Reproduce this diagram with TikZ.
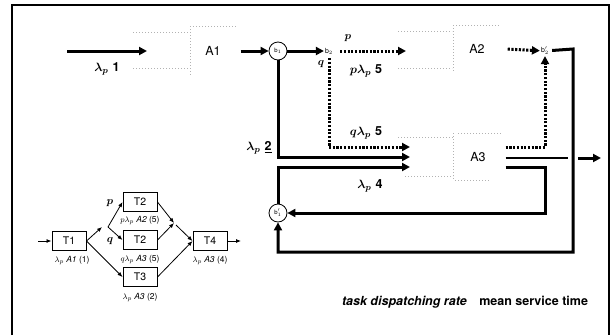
\documentclass[tikz,border=0pt]{standalone}
\usepackage{fontspec}
\setsansfont{TeX Gyre Heros}
\usepackage{bm}
\usetikzlibrary{arrows.meta}
\begin{document}
\begin{tikzpicture}[x=1pt,y=-1pt,
  thk/.style={line width=3pt,-{Triangle[length=8pt,width=8pt]}},
  thkline/.style={line width=2.6pt},
  dotarr/.style={line width=3pt,dash pattern=on 2.2pt off 1.5pt,-{Triangle[length=8pt,width=8pt]}},
  faint/.style={gray!60,line width=0.7pt,dash pattern=on 1pt off 2pt},
  srv/.style={minimum width=47pt,minimum height=46pt,inner sep=0pt,font=\sffamily\fontsize{12.5}{12.5}\selectfont},
  circ/.style={circle,draw,line width=0.8pt,minimum size=18pt,inner sep=0pt,font=\sffamily\fontsize{6}{6}\selectfont},
  bnode/.style={inner sep=1pt,font=\sffamily\fontsize{7}{7}\selectfont},
  lab/.style={inner sep=0pt,font=\fontsize{12.5}{12.5}\selectfont},
  tbox/.style={draw,line width=1pt,minimum width=34pt,minimum height=19pt,inner sep=0pt,font=\sffamily\fontsize{10.5}{10.5}\selectfont},
  sarr/.style={line width=0.8pt,-{Latex[length=5pt,width=4pt]}},
  slab/.style={inner sep=0pt,font=\sffamily\itshape\fontsize{8.5}{9}\selectfont},
  pq/.style={inner sep=0pt,font=\fontsize{11}{11}\selectfont}]
\useasboundingbox (0,0) rectangle (616,335);
% frame
\draw[line width=1.3pt] (12,335) -- (12,5) -- (609,5) -- (609,335);

% main nodes
\node[srv] (A1) at (213,51) {A1};
\node[circ] (b1) at (278,51) {b$_1$};
\node[bnode] (b2) at (329,51) {b$_2$};
\node[srv] (A2) at (477,49) {A2};
\node[bnode] (b2p) at (545,51) {b$_2'$};
\node[srv] (A3) at (478,157) {A3};
\node[circ] (b1p) at (278,213) {b$_1'$};

% coordinates
\coordinate (in1) at (67,51);
\coordinate (q1) at (147,51);
\coordinate (q2) at (406,51);
\coordinate (q3a) at (410,147);
\coordinate (q3b) at (410,157);
\coordinate (q3c) at (410,167);
\coordinate (o1) at (545,147);
\coordinate (o3) at (545,167);
\coordinate (hop1) at (568,158);
\coordinate (hop2) at (578,158);
\coordinate (out) at (601,158);
\coordinate (c1) at (573,49);
\coordinate (c2) at (573,252);

% faint queue/server outlines
\draw[faint] (133,32) -- (190,32) (133,68) -- (190,68) (190,26) -- (190,75) (190,26) -- (236,26);
\draw[faint] (398,31) -- (452,31) (398,68) -- (452,68) (453,25) -- (453,72) (453,25) -- (500,25);
\draw[faint] (398,137) -- (453,137) (405,176) -- (453,176) (453,133) -- (453,180) (458,133) -- (502,133) (455,180) -- (490,180);

% main connectors
\draw[thk] (in1) -- (q1);
\draw[thk] ([xshift=4pt]A1.east) -- (b1);
\draw[thk] (b1) -- (b2);
\draw[dotarr,shorten <=6pt] (b2) -- (q2);
\draw[dotarr,shorten <=2pt] ([xshift=5pt]A2.east) -- (b2p);
\draw[dotarr,shorten <=3pt] (b2) |- (q3a);
\draw[thk] (b1) |- (q3b);
\draw[thk] (b1p) |- (q3c);
\draw[dotarr] ([xshift=4pt]A3.east |- o1) -- (o1) -- (b2p);
\draw[thkline] ([xshift=4pt]A3.east |- hop1) -- (hop1);
\draw[thk] (hop2) -- (out);
\draw[thk] ([xshift=4pt]A3.east |- o3) -- (o3) |- (b1p);
\draw[thk,shorten <=2pt] (b2p) -- (c1) -- (c2) -| (b1p);

% labels
\node[lab] (l1) at (107,69) {$\bm{\lambda_p}$ \textbf{\sffamily 1}};
\node[lab] (l2) at (259,148) {$\bm{\lambda_p}$ \underline{\textbf{\sffamily 2}}};
\node[lab] (l5a) at (366,71) {$\bm{p\lambda_p}$ \textbf{\sffamily 5}};
\node[lab] (l5b) at (366,133) {$\bm{q\lambda_p}$ \textbf{\sffamily 5}};
\node[lab] (l4) at (370,186) {$\bm{\lambda_p}$ \textbf{\sffamily 4}};
\node[pq] (lp) at (348,38) {$\bm{p}$};
\node[pq] (lq) at (321,64) {$\bm{q}$};

% inset
\node[tbox] (T1) at (69,241) {T1};
\node[tbox] (T2a) at (140,202) {T2};
\node[tbox] (T2b) at (140,240) {T2};
\node[tbox] (T3) at (140,277) {T3};
\node[tbox] (T4) at (210,241) {T4};
\coordinate (sin) at (38,241);
\coordinate (sout) at (241,241);
\coordinate (br1) at (102,227);
\coordinate (br2) at (108,227);
\coordinate (mg1) at (174,223);
\coordinate (mg2) at (176,225);
\draw[sarr] (sin) -- (T1);
\draw[sarr] (T1.east) -- (br1);
\draw[sarr] (br2) -- (T2a.west);
\draw[sarr] (br2) -- (T2b.west);
\draw[sarr] (T1.east) -- (T3.west);
\draw[sarr] (T2a.east) -- (mg1);
\draw[sarr] (T2b.east) -- (mg1);
\draw[sarr] (mg2) -- (T4.west);
\draw[sarr] (T3.east) -- (T4.west);
\draw[sarr] (T4) -- (sout);
\node[pq] (ip) at (110,203) {$\bm{p}$};
\node[pq] (iq) at (110,241) {$\bm{q}$};
\node[slab] (s1) at (72,260) {$\lambda_p$ A1 \upshape(1)};
\node[slab] (s2a) at (140,220) {$p\lambda_p$ A2 \upshape(5)};
\node[slab] (s2b) at (140,259) {$q\lambda_p$ A3 \upshape(5)};
\node[slab] (s3) at (140,297) {$\lambda_p$ A3 \upshape(2)};
\node[slab] (s4) at (210,260) {$\lambda_p$ A3 \upshape(4)};

% legend
\node[inner sep=0pt,font=\sffamily\bfseries\fontsize{12.5}{12.5}\selectfont] (leg) at (465,302) {\itshape task dispatching rate\upshape\quad mean service time};
\end{tikzpicture}
\end{document}
